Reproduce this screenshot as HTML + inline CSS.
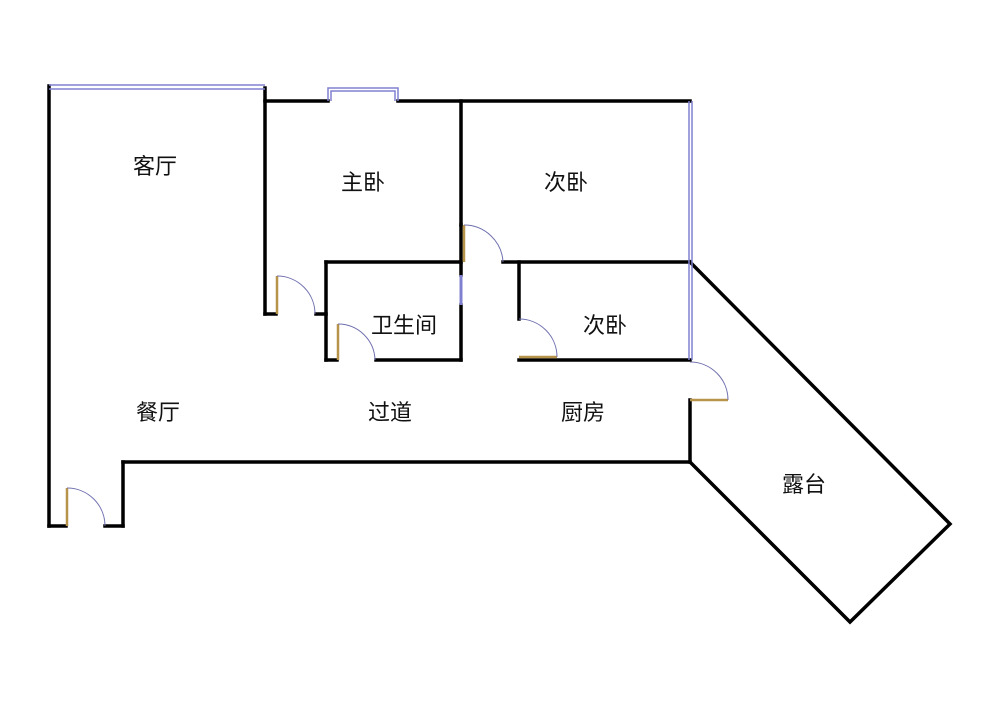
<!DOCTYPE html>
<html><head><meta charset="utf-8"><style>
html,body{margin:0;padding:0;background:#fff;}
svg{display:block}
text{font-family:"Liberation Sans","Noto Sans CJK SC",sans-serif;font-size:22px;fill:#111;text-anchor:middle;dominant-baseline:middle}
</style></head><body>
<svg width="1000" height="707" viewBox="0 0 1000 707" xmlns="http://www.w3.org/2000/svg">
<rect width="1000" height="707" fill="#fff"/>
<g stroke="#000" stroke-width="3.5" fill="none" stroke-linecap="square">
<line x1="49" y1="86" x2="49" y2="526"/>
<line x1="49" y1="526" x2="66" y2="526"/>
<line x1="105" y1="526" x2="123" y2="526"/>
<line x1="123" y1="526" x2="123" y2="462"/>
<line x1="123" y1="462" x2="690" y2="462"/>
<line x1="265" y1="88" x2="265" y2="314"/>
<line x1="265" y1="314" x2="276" y2="314"/>
<line x1="316" y1="314" x2="326" y2="314"/>
<line x1="265" y1="101" x2="328" y2="101"/>
<line x1="398" y1="101" x2="690" y2="101"/>
<line x1="461" y1="101" x2="461" y2="225"/>
<line x1="461" y1="225" x2="461" y2="275"/>
<line x1="461" y1="305" x2="461" y2="360"/>
<line x1="326" y1="262" x2="461" y2="262"/>
<line x1="326" y1="262" x2="326" y2="360"/>
<line x1="326" y1="360" x2="337" y2="360"/>
<line x1="376" y1="360" x2="461" y2="360"/>
<line x1="503" y1="262" x2="690" y2="262"/>
<line x1="519" y1="262" x2="519" y2="319"/>
<line x1="519" y1="360" x2="690" y2="360"/>
<line x1="690" y1="400" x2="690" y2="462"/>
<polyline points="690,262 950,524 850,622 690,462"/>
</g>
<g stroke="#8080d0" stroke-width="1.5" fill="none">
<line x1="49" y1="85" x2="265" y2="85"/>
<line x1="49" y1="89" x2="265" y2="89"/>
<polyline points="328,101 328,88 398,88 398,101"/>
<polyline points="331,101 331,91 395,91 395,101"/>
<line x1="689" y1="101" x2="689" y2="360"/>
<line x1="692" y1="101" x2="692" y2="360"/>
<line x1="461" y1="275" x2="461" y2="305" stroke-width="3"/>
</g>
<g stroke="#b8944a" stroke-width="2.5" fill="none">
<line x1="277" y1="276" x2="277" y2="314"/>
<line x1="338" y1="324" x2="338" y2="360"/>
<line x1="464" y1="225" x2="464" y2="262"/>
<line x1="519" y1="357" x2="557" y2="357"/>
<line x1="690" y1="400" x2="728" y2="400"/>
<line x1="67" y1="488" x2="67" y2="526"/>
</g>
<g stroke="#7070b0" stroke-width="1" fill="none">
<path d="M277,276 A38,38 0 0 1 315,314"/>
<path d="M338,324 A37,37 0 0 1 375,360"/>
<path d="M464,225 A39,39 0 0 1 503,262"/>
<path d="M519,319 A38,38 0 0 1 557,357"/>
<path d="M690,362 A38,38 0 0 1 728,400"/>
<path d="M67,488 A38,38 0 0 1 105,526"/>
</g>
<text x="155" y="168">客厅</text>
<text x="363" y="184">主卧</text>
<text x="566" y="184">次卧</text>
<text x="404" y="327">卫生间</text>
<text x="605" y="327">次卧</text>
<text x="158" y="414">餐厅</text>
<text x="390" y="414">过道</text>
<text x="583" y="414">厨房</text>
<text x="804" y="486">露台</text>
</svg>
</body></html>
